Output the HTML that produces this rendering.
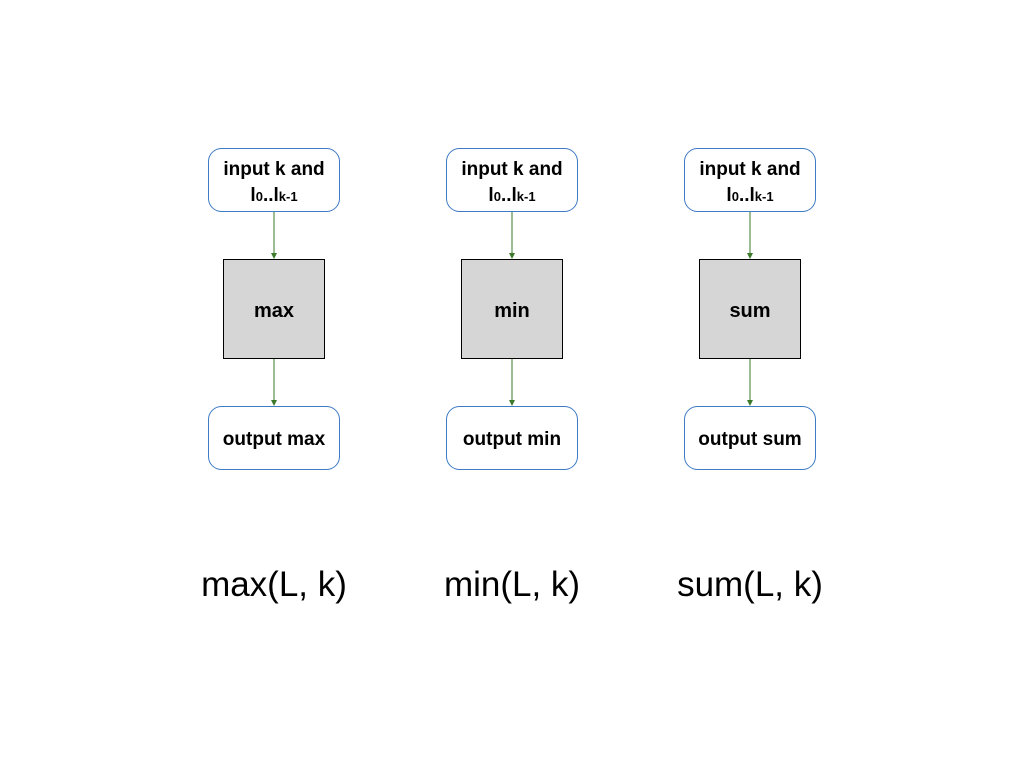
<!DOCTYPE html>
<html><head><style>
body{margin:0;width:1024px;height:768px;background:#fff;overflow:hidden}
</style></head><body>
<svg width="1024" height="768" xmlns="http://www.w3.org/2000/svg" font-family="Liberation Sans, sans-serif">
<defs><marker id="a" markerWidth="6" markerHeight="6" refX="5" refY="3" orient="auto" markerUnits="userSpaceOnUse"><path d="M0,0 L6,3 L0,6 z" fill="#3a7a2a"/></marker></defs>
<g transform="translate(0,0)">
<rect x="208.5" y="148.5" width="131" height="63" rx="13" fill="#fff" stroke="#3d7bc4" stroke-width="1"/>
<text x="274" y="175" font-size="19" font-weight="bold" text-anchor="middle">input k and</text>
<text x="274" y="201" font-size="19" font-weight="bold" text-anchor="middle">l<tspan font-size="13">0</tspan>..l<tspan font-size="13">k-1</tspan></text>
<line x1="274" y1="212" x2="274" y2="258" stroke="#3a7a2a" stroke-width="1" marker-end="url(#a)"/>
<rect x="223.5" y="259.5" width="101" height="99" fill="#d6d6d6" stroke="#000" stroke-width="1"/>
<text x="274" y="317" font-size="20" font-weight="bold" text-anchor="middle">max</text>
<line x1="274" y1="359" x2="274" y2="405" stroke="#3a7a2a" stroke-width="1" marker-end="url(#a)"/>
<rect x="208.5" y="406.5" width="131" height="63" rx="13" fill="#fff" stroke="#3d7bc4" stroke-width="1"/>
<text x="274" y="445" font-size="19" font-weight="bold" text-anchor="middle">output max</text>
<text x="274" y="596" font-size="35" text-anchor="middle">max(L, k)</text>
</g>
<g transform="translate(238,0)">
<rect x="208.5" y="148.5" width="131" height="63" rx="13" fill="#fff" stroke="#3d7bc4" stroke-width="1"/>
<text x="274" y="175" font-size="19" font-weight="bold" text-anchor="middle">input k and</text>
<text x="274" y="201" font-size="19" font-weight="bold" text-anchor="middle">l<tspan font-size="13">0</tspan>..l<tspan font-size="13">k-1</tspan></text>
<line x1="274" y1="212" x2="274" y2="258" stroke="#3a7a2a" stroke-width="1" marker-end="url(#a)"/>
<rect x="223.5" y="259.5" width="101" height="99" fill="#d6d6d6" stroke="#000" stroke-width="1"/>
<text x="274" y="317" font-size="20" font-weight="bold" text-anchor="middle">min</text>
<line x1="274" y1="359" x2="274" y2="405" stroke="#3a7a2a" stroke-width="1" marker-end="url(#a)"/>
<rect x="208.5" y="406.5" width="131" height="63" rx="13" fill="#fff" stroke="#3d7bc4" stroke-width="1"/>
<text x="274" y="445" font-size="19" font-weight="bold" text-anchor="middle">output min</text>
<text x="274" y="596" font-size="35" text-anchor="middle">min(L, k)</text>
</g>
<g transform="translate(476,0)">
<rect x="208.5" y="148.5" width="131" height="63" rx="13" fill="#fff" stroke="#3d7bc4" stroke-width="1"/>
<text x="274" y="175" font-size="19" font-weight="bold" text-anchor="middle">input k and</text>
<text x="274" y="201" font-size="19" font-weight="bold" text-anchor="middle">l<tspan font-size="13">0</tspan>..l<tspan font-size="13">k-1</tspan></text>
<line x1="274" y1="212" x2="274" y2="258" stroke="#3a7a2a" stroke-width="1" marker-end="url(#a)"/>
<rect x="223.5" y="259.5" width="101" height="99" fill="#d6d6d6" stroke="#000" stroke-width="1"/>
<text x="274" y="317" font-size="20" font-weight="bold" text-anchor="middle">sum</text>
<line x1="274" y1="359" x2="274" y2="405" stroke="#3a7a2a" stroke-width="1" marker-end="url(#a)"/>
<rect x="208.5" y="406.5" width="131" height="63" rx="13" fill="#fff" stroke="#3d7bc4" stroke-width="1"/>
<text x="274" y="445" font-size="19" font-weight="bold" text-anchor="middle">output sum</text>
<text x="274" y="596" font-size="35" text-anchor="middle">sum(L, k)</text>
</g>
</svg>
</body></html>
